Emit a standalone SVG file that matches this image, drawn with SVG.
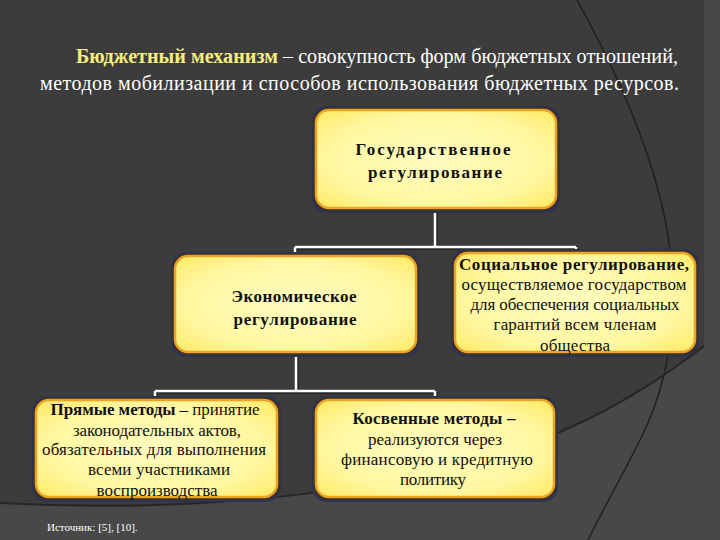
<svg xmlns="http://www.w3.org/2000/svg" width="720" height="540" viewBox="0 0 720 540">
<defs>
<radialGradient id="fill" cx="50%" cy="50%" r="65%">
<stop offset="0" stop-color="#fffcc0"/>
<stop offset="0.7" stop-color="#fff7a0"/>
<stop offset="1" stop-color="#ffec70"/>
</radialGradient>
<style>
.shadow{fill:#2c3452;}
.outer{fill:none;stroke:#4a3010;stroke-width:5;}
.box{fill:url(#fill);stroke:#e9a42a;stroke-width:2.5;}
.t{font-family:'Liberation Serif','Times New Roman',serif;fill:#111;text-anchor:middle;font-size:17px;}
.b{font-weight:bold;}
.title{font-family:'Liberation Serif','Times New Roman',serif;font-size:20px;fill:#ffffff;}
.conn{stroke:#ffffff;stroke-width:2.5;fill:none;}
.connsh{stroke:#1e1e1e;stroke-width:4.5;fill:none;opacity:0.6;}
.src{font-family:'Liberation Serif','Times New Roman',serif;font-size:11px;fill:#ffffff;}
</style>
</defs>
<rect x="0" y="0" width="720" height="540" fill="#3c3c3c"/>
<path d="M0,503 C200,514 420,492 560,432 C630,402 680,365 720,334 L720,540 L0,540 Z" fill="#484848"/>
<path d="M0,503 C200,514 420,492 560,432 C630,402 680,365 720,334" fill="none" stroke="#262626" stroke-width="2"/>
<rect x="704" y="0" width="16" height="540" fill="#464646"/>
<path d="M577,0 C660,150 710,300 640,440 C620,480 600,515 588,540" fill="none" stroke="#222222" stroke-width="1.6"/>

<g id="title">
<text class="title" x="76" y="63" textLength="602" lengthAdjust="spacingAndGlyphs"><tspan class="b" fill="#f4ee7c">Бюджетный механизм</tspan> – совокупность форм бюджетных отношений,</text>
<text class="title" x="40" y="90" textLength="639" lengthAdjust="spacing">методов  мобилизации  и  способов  использования  бюджетных  ресурсов.</text>
</g>

<g id="connectors">
<path class="connsh" d="M436,209 V248 M296,248 H577 M296,248 V256 M577,248 V253 M297,353 V392 M156,392 H436 M156,392 V400 M436,392 V400"/>
<path class="conn" d="M435,208 V247 M295,247 H576 M295,247 V256 M576,247 V253 M296,352 V391 M155,391 H435 M155,391 V400 M435,391 V400"/>
</g>

<g id="n-gos">
<rect class="shadow" x="312" y="106" width="248" height="107" rx="15"/>
<rect class="outer" x="316" y="110" width="240" height="98" rx="13"/>
<rect class="box" x="316" y="110" width="240" height="98" rx="13"/>
<text class="t b" x="433" y="155" textLength="155" lengthAdjust="spacing">Государственное</text>
<text class="t b" x="435" y="178" textLength="134" lengthAdjust="spacing">регулирование</text>
</g>

<g id="n-econ">
<rect class="shadow" x="171" y="252" width="249" height="105" rx="15"/>
<rect class="outer" x="175" y="256" width="241" height="96" rx="13"/>
<rect class="box" x="175" y="256" width="241" height="96" rx="13"/>
<text class="t b" x="294" y="302" textLength="125" lengthAdjust="spacing">Экономическое</text>
<text class="t b" x="295" y="325" textLength="123" lengthAdjust="spacing">регулирование</text>
</g>

<g id="n-soc">
<rect class="shadow" x="451" y="249" width="248" height="108" rx="15"/>
<rect class="outer" x="455" y="253" width="240" height="99" rx="13"/>
<rect class="box" x="455" y="253" width="240" height="99" rx="13"/>
<text class="t b" x="574" y="270" textLength="230" lengthAdjust="spacing">Социальное регулирование,</text>
<text class="t" x="574" y="290" textLength="225" lengthAdjust="spacing">осуществляемое  государством</text>
<text class="t" x="575" y="310" textLength="209" lengthAdjust="spacing">для обеспечения социальных</text>
<text class="t" x="575" y="330" textLength="163" lengthAdjust="spacing">гарантий  всем членам</text>
<text class="t" x="575" y="351" textLength="70" lengthAdjust="spacing">общества</text>
</g>

<g id="n-direct">
<rect class="shadow" x="32" y="396" width="249" height="106" rx="15"/>
<rect class="outer" x="36" y="400" width="241" height="97" rx="13"/>
<rect class="box" x="36" y="400" width="241" height="97" rx="13"/>
<text class="t" x="155" y="415" textLength="209" lengthAdjust="spacing"><tspan class="b">Прямые методы</tspan> – принятие</text>
<text class="t" x="157" y="436" textLength="168" lengthAdjust="spacing">законодательных актов,</text>
<text class="t" x="154" y="455" textLength="224" lengthAdjust="spacing">обязательных для выполнения</text>
<text class="t" x="159" y="475" textLength="142" lengthAdjust="spacing">всеми  участниками</text>
<text class="t" x="157" y="496" textLength="121" lengthAdjust="spacing">воспроизводства</text>
</g>

<g id="n-indirect">
<rect class="shadow" x="312" y="396" width="246" height="106" rx="15"/>
<rect class="outer" x="316" y="400" width="238" height="97" rx="13"/>
<rect class="box" x="316" y="400" width="238" height="97" rx="13"/>
<text class="t b" x="434" y="424" textLength="163" lengthAdjust="spacing">Косвенные методы –</text>
<text class="t" x="435" y="445" textLength="134" lengthAdjust="spacing">реализуются через</text>
<text class="t" x="437" y="465" textLength="192" lengthAdjust="spacing">финансовую  и кредитную</text>
<text class="t" x="433" y="485" textLength="66" lengthAdjust="spacing">политику</text>
</g>

<text class="src" x="47" y="531">Источник: [5], [10].</text>
</svg>
